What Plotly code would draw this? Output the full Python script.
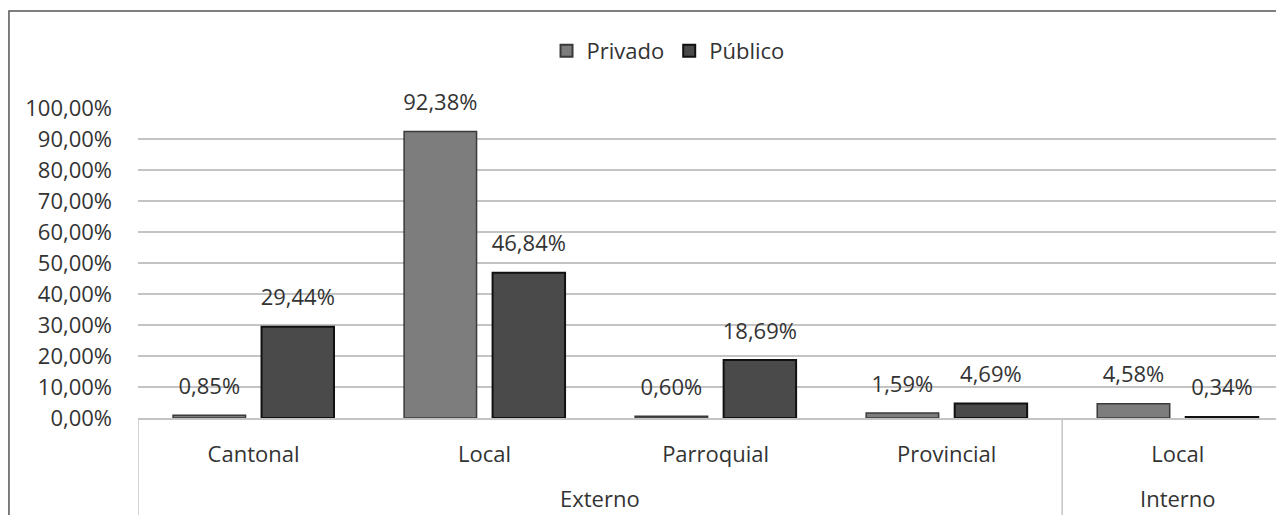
import plotly.graph_objects as go

groups = ["Externo", "Externo", "Externo", "Externo", "Interno"]
categories = ["Cantonal", "Local", "Parroquial", "Provincial", "Local"]
privado = [0.85, 92.38, 0.60, 1.59, 4.58]
publico = [29.44, 46.84, 18.69, 4.69, 0.34]
series_names = ["Privado", "Público"]
tick_vals = [0, 10, 20, 30, 40, 50, 60, 70, 80, 90, 100]
tick_text = ["0,00%", "10,00%", "20,00%", "30,00%", "40,00%", "50,00%",
             "60,00%", "70,00%", "80,00%", "90,00%", "100,00%"]


def fmt(v):
    return f"{v:.2f}".replace(".", ",") + "%"


FONT = "Open Sans"
TXT = "#333333"
GRID = "#c4c4c4"
xpos = list(range(len(categories)))

fig = go.Figure()
fig.add_trace(go.Bar(
    name=series_names[0], x=xpos, y=privado, offsetgroup="a",
    marker=dict(color="#7d7d7d", line=dict(color="#3a3a3a", width=1.5)),
))
fig.add_trace(go.Bar(
    name=series_names[1], x=xpos, y=publico, offsetgroup="b",
    marker=dict(color="#4a4a4a", line=dict(color="#111111", width=2)),
))
for vals, grp in ((privado, "a"), (publico, "b")):
    fig.add_trace(go.Scatter(
        x=xpos, y=vals, mode="markers+text", offsetgroup=grp,
        text=[fmt(v) for v in vals], textposition="top center",
        textfont=dict(family=FONT, size=22, color=TXT),
        marker=dict(size=24, color="rgba(0,0,0,0)"),
        showlegend=False, hoverinfo="skip", cliponaxis=False,
    ))

# group (outer) labels and dividers, derived from the groups list
bounds = [-0.5]
for i in range(1, len(groups)):
    if groups[i] != groups[i - 1]:
        bounds.append(i - 0.5)
starts = bounds + [len(groups) - 0.5]
for k in range(len(starts) - 1):
    a, b = starts[k], starts[k + 1]
    fig.add_annotation(x=(a + b) / 2, y=-0.258, xref="x", yref="paper",
                       text=groups[int(a + 0.5)], showarrow=False,
                       font=dict(family=FONT, size=22, color=TXT),
                       yanchor="middle", borderpad=0)
for bx in bounds:
    fig.add_shape(type="line", xref="x", yref="paper", x0=bx, x1=bx,
                  y0=0, y1=-0.4, line=dict(color=GRID, width=1.5))

fig.update_layout(
    width=1276, height=507,
    margin=dict(l=130, r=0, t=100, b=97, autoexpand=False),
    paper_bgcolor="white", plot_bgcolor="white",
    barmode="group", bargap=0.234, bargroupgap=0.181,
    scattermode="group", scattergap=0.234,
    font=dict(family=FONT, size=22, color=TXT),
    legend=dict(orientation="h", x=0.4625, y=1.184, xanchor="center",
                yanchor="middle", font=dict(size=22, color=TXT),
                itemsizing="constant", traceorder="normal"),
    showlegend=True,
)
fig.update_xaxes(
    range=[-0.5, 4.46], showgrid=False, zeroline=False,
    tickvals=xpos, ticktext=categories,
    showline=True, linecolor=GRID, linewidth=1.5,
    tickfont=dict(family=FONT, size=22, color=TXT), ticks="",
    ticklabelstandoff=16, automargin=False,
)
fig.update_yaxes(
    range=[0, 100], tickvals=tick_vals, ticktext=tick_text,
    showgrid=True, gridcolor=GRID, gridwidth=1.5,
    zeroline=False, showline=False, ticks="",
    tickfont=dict(family=FONT, size=22, color=TXT),
    ticklabelstandoff=25, automargin=False,
)
fig.add_shape(type="rect", xref="paper", yref="paper",
              x0=-0.1126, x1=1.2, y0=-0.6, y1=1.3129,
              line=dict(color="#555555", width=1.5), layer="below")

fig.write_html("out.html")
